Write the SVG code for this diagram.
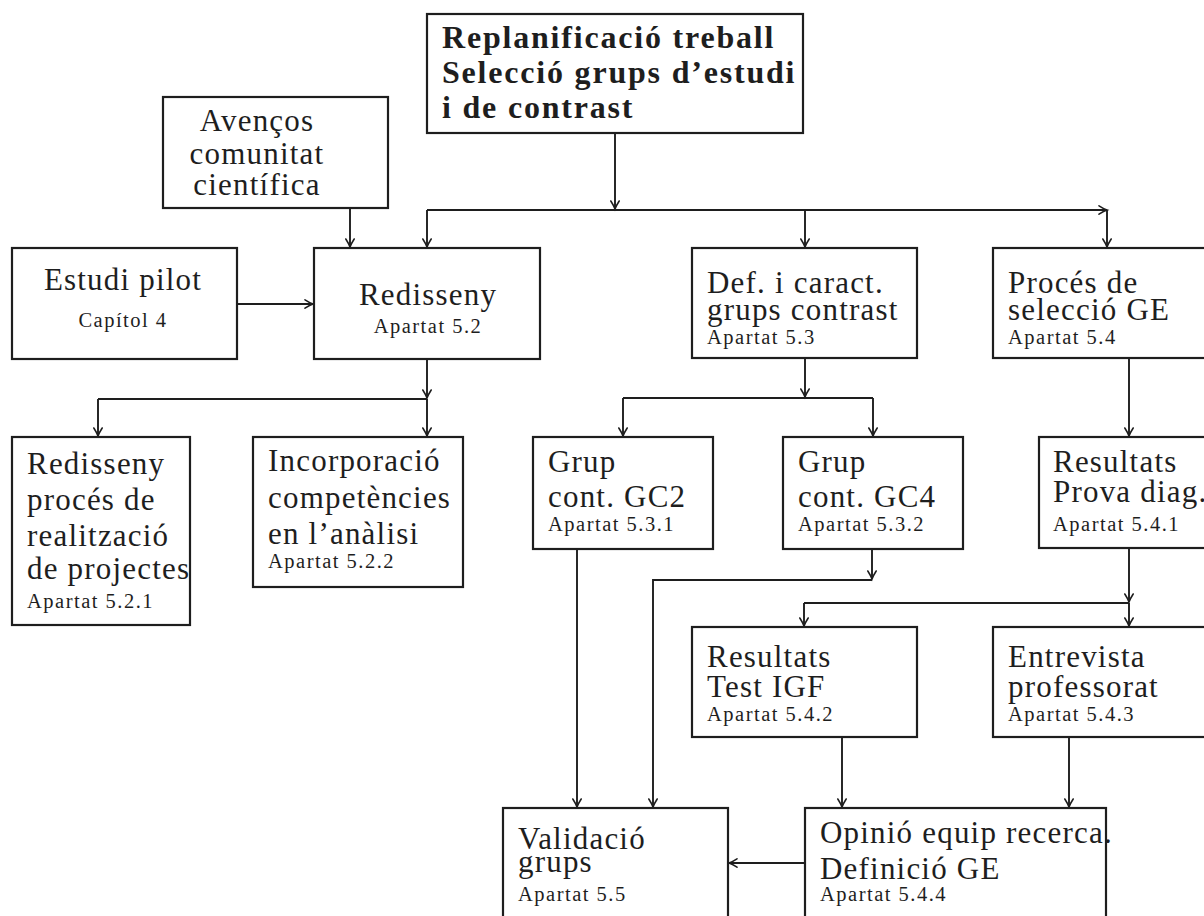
<svg xmlns="http://www.w3.org/2000/svg" width="1204" height="916" viewBox="0 0 1204 916">
  <defs>
    <marker id="tip" markerUnits="userSpaceOnUse" markerWidth="16" markerHeight="16" viewBox="-10 -8 12 16" refX="0" refY="0" orient="auto" overflow="visible">
      <path d="M-8,-4.2 Q-3,-1 0,0 Q-3,1 -8,4.2" fill="none" stroke="#1e1e1e" stroke-width="1.6" stroke-linecap="round"/>
    </marker>
    <style>
      .box { fill: #fff; stroke: #1e1e1e; stroke-width: 2.2; }
      .t { font-family: "Liberation Serif", "Times New Roman", serif; font-size: 31px; letter-spacing: 1.2px; fill: #1e1e1e; }
      .s { font-family: "Liberation Serif", "Times New Roman", serif; font-size: 20.5px; letter-spacing: 1.5px; fill: #1e1e1e; }
      .b { font-family: "Liberation Serif", "Times New Roman", serif; font-size: 32px; font-weight: bold; letter-spacing: 1.8px; fill: #1e1e1e; }
      .c { text-anchor: middle; }
      .ln { fill: none; stroke: #1e1e1e; stroke-width: 1.9; }
      .ar { marker-end: url(#tip); }
    </style>
  </defs>

  <rect width="1204" height="916" fill="#fff"/>

  <!-- connectors -->
  <g id="connectors">
    <path class="ln ar" d="M615,133 V209"/>
    <path class="ln ar" d="M427,210 H1107"/>
    <path class="ln ar" d="M427,210 V247"/>
    <path class="ln ar" d="M805,210 V247"/>
    <path class="ln ar" d="M1107,210 V247"/>
    <path class="ln ar" d="M350,208 V247"/>
    <path class="ln ar" d="M237,304 H313"/>
    <path class="ln ar" d="M427,359 V398"/>
    <path class="ln" d="M98,399 H427"/>
    <path class="ln ar" d="M98,399 V436"/>
    <path class="ln ar" d="M427,399 V436"/>
    <path class="ln ar" d="M805,358 V397"/>
    <path class="ln" d="M623,398 H873"/>
    <path class="ln ar" d="M623,398 V436"/>
    <path class="ln ar" d="M873,398 V436"/>
    <path class="ln ar" d="M1129,358 V436"/>
    <path class="ln ar" d="M577,549 V807"/>
    <path class="ln ar" d="M872,549 V579"/>
    <path class="ln ar" d="M872,580 H653 V807"/>
    <path class="ln ar" d="M1129,548 V602"/>
    <path class="ln" d="M804,603 H1129"/>
    <path class="ln ar" d="M804,603 V626"/>
    <path class="ln ar" d="M1129,603 V626"/>
    <path class="ln ar" d="M842,737 V807"/>
    <path class="ln ar" d="M1069,737 V807"/>
    <path class="ln ar" d="M805,863 H729"/>
  </g>

  <!-- nodes -->
  <g id="replanificacio">
    <rect class="box" x="427" y="14" width="376" height="119"/>
    <text class="b" x="442" y="48">Replanificació treball</text>
    <text class="b" x="442" y="83">Selecció grups d’estudi</text>
    <text class="b" x="442" y="118">i de contrast</text>
  </g>

  <g id="avencos">
    <rect class="box" x="163" y="97" width="225" height="111"/>
    <text class="t c" x="257" y="131">Avenços</text>
    <text class="t c" x="257" y="164">comunitat</text>
    <text class="t c" x="257" y="195">científica</text>
  </g>

  <g id="estudi-pilot">
    <rect class="box" x="12" y="248" width="225" height="111"/>
    <text class="t c" x="123" y="290">Estudi pilot</text>
    <text class="s c" x="123" y="327">Capítol 4</text>
  </g>

  <g id="redisseny">
    <rect class="box" x="314" y="248" width="226" height="111"/>
    <text class="t c" x="428" y="305">Redisseny</text>
    <text class="s c" x="428" y="333">Apartat 5.2</text>
  </g>

  <g id="def-grups-contrast">
    <rect class="box" x="692" y="248" width="225" height="110"/>
    <text class="t" x="707" y="293">Def. i caract.</text>
    <text class="t" x="707" y="320">grups contrast</text>
    <text class="s" x="707" y="344">Apartat 5.3</text>
  </g>

  <g id="proces-seleccio">
    <rect class="box" x="993" y="248" width="230" height="110"/>
    <text class="t" x="1008" y="293">Procés de</text>
    <text class="t" x="1008" y="320">selecció GE</text>
    <text class="s" x="1008" y="344">Apartat 5.4</text>
  </g>

  <g id="redisseny-proces">
    <rect class="box" x="12" y="437" width="178" height="188"/>
    <text class="t" x="27" y="474">Redisseny</text>
    <text class="t" x="27" y="510">procés de</text>
    <text class="t" x="27" y="546">realització</text>
    <text class="t" x="27" y="579">de projectes</text>
    <text class="s" x="27" y="608">Apartat 5.2.1</text>
  </g>

  <g id="incorporacio">
    <rect class="box" x="253" y="437" width="210" height="150"/>
    <text class="t" x="268" y="471">Incorporació</text>
    <text class="t" x="268" y="508">competències</text>
    <text class="t" x="268" y="544">en l’anàlisi</text>
    <text class="s" x="268" y="568">Apartat 5.2.2</text>
  </g>

  <g id="grup-gc2">
    <rect class="box" x="533" y="437" width="180" height="112"/>
    <text class="t" x="548" y="472">Grup</text>
    <text class="t" x="548" y="507">cont. GC2</text>
    <text class="s" x="548" y="531">Apartat 5.3.1</text>
  </g>

  <g id="grup-gc4">
    <rect class="box" x="783" y="437" width="180" height="112"/>
    <text class="t" x="798" y="472">Grup</text>
    <text class="t" x="798" y="507">cont. GC4</text>
    <text class="s" x="798" y="531">Apartat 5.3.2</text>
  </g>

  <g id="prova-diag">
    <rect class="box" x="1039" y="437" width="185" height="111"/>
    <text class="t" x="1053" y="472">Resultats</text>
    <text class="t" x="1053" y="502">Prova diag.</text>
    <text class="s" x="1053" y="531">Apartat 5.4.1</text>
  </g>

  <g id="test-igf">
    <rect class="box" x="692" y="627" width="225" height="110"/>
    <text class="t" x="707" y="667">Resultats</text>
    <text class="t" x="707" y="697">Test IGF</text>
    <text class="s" x="707" y="721">Apartat 5.4.2</text>
  </g>

  <g id="entrevista">
    <rect class="box" x="993" y="627" width="230" height="110"/>
    <text class="t" x="1008" y="667">Entrevista</text>
    <text class="t" x="1008" y="697">professorat</text>
    <text class="s" x="1008" y="721">Apartat 5.4.3</text>
  </g>

  <g id="validacio">
    <rect class="box" x="503" y="808" width="225" height="130"/>
    <text class="t" x="518" y="849">Validació</text>
    <text class="t" x="518" y="872">grups</text>
    <text class="s" x="518" y="901">Apartat 5.5</text>
  </g>

  <g id="opinio">
    <rect class="box" x="805" y="808" width="301" height="130"/>
    <text class="t" x="820" y="843">Opinió equip recerca.</text>
    <text class="t" x="820" y="879">Definició GE</text>
    <text class="s" x="820" y="901">Apartat 5.4.4</text>
  </g>
</svg>
